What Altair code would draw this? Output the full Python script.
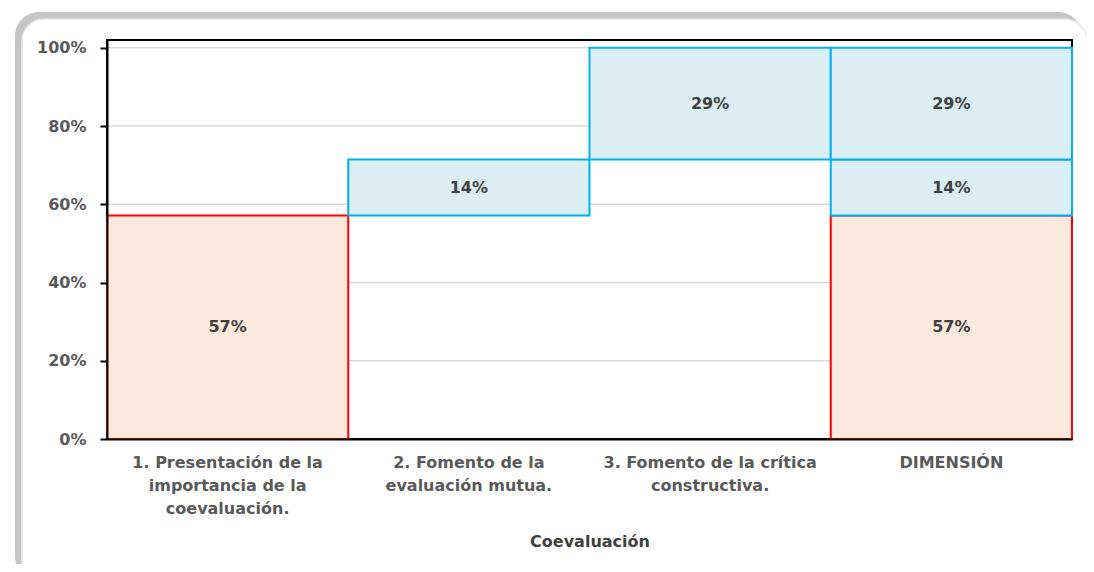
import altair as alt
import pandas as pd

# ---- data ----
categories = [
    "1. Presentación de la|importancia de la|coevaluación.",
    "2. Fomento de la|evaluación mutua.",
    "3. Fomento de la crítica|constructiva.",
    "DIMENSIÓN",
]
seg_category = [categories[0], categories[1], categories[2], categories[3], categories[3], categories[3]]
seg_value = [0.5714, 0.1429, 0.2857, 0.5714, 0.1429, 0.2857]
seg_kind = ["base", "step", "step", "base", "step", "step"]
seg_label = ["57%", "14%", "29%", "57%", "14%", "29%"]
seg_start = [0.0, 0.5714, 0.7143, 0.0, 0.5714, 0.7143]
y_ticks = [0, 0.2, 0.4, 0.6, 0.8, 1.0]

df = pd.DataFrame({
    "cat": seg_category,
    "start": seg_start,
    "value": seg_value,
    "kind": seg_kind,
    "label": seg_label,
})
df["end"] = df["start"] + df["value"]
df["mid"] = (df["start"] + df["end"]) / 2
grid_df = pd.DataFrame({"t": y_ticks})

FONT = "DejaVu Sans"
W, H = 965, 399
y_scale = alt.Scale(domain=[0, 1.02], nice=False)

x_enc = alt.X(
    "cat:N",
    sort=categories,
    title="Coevaluación",
    scale=alt.Scale(paddingInner=0, paddingOuter=0),
    axis=alt.Axis(
        labelAngle=0,
        labelExpr="split(datum.label, '|')",
        labelFont=FONT, labelFontSize=16, labelFontWeight="bold", labelColor="#595959",
        labelLineHeight=23, labelPadding=15, labelLimit=400,
        ticks=False, domainColor="black", domainWidth=2, zindex=2,
        titleFont=FONT, titleFontSize=16, titleFontWeight="bold", titleColor="#404040",
        titlePadding=17,
    ),
)

one = pd.DataFrame({"a": [0]})
shadow = alt.Chart(one).mark_rect(
    fill="#9e9e9e", opacity=0.6, cornerRadius=24
).encode(
    x=alt.value(-92), x2=alt.value(975), y=alt.value(-28), y2=alt.value(540)
)
frame = alt.Chart(one).mark_rect(
    fill="white", stroke="#e6e6e6", strokeWidth=1.5, cornerRadius=22
).encode(
    x=alt.value(-85), x2=alt.value(980), y=alt.value(-21), y2=alt.value(545)
)

grid = alt.Chart(grid_df).mark_rule(color="#d9d9d9", strokeWidth=1.5).encode(
    y=alt.Y("t:Q", scale=y_scale, title=None,
            axis=alt.Axis(
                values=y_ticks, format=".0%", grid=False,
                labelFont=FONT, labelFontSize=16, labelFontWeight="bold", labelColor="#595959",
                labelPadding=14, tickSize=7, tickColor="black", tickWidth=2,
                domainColor="black", domainWidth=2, zindex=2,
            )),
)

view_box = alt.Chart(one).mark_rect(fill=None, stroke="black", strokeWidth=2).encode(
    x=alt.value(0), x2=alt.value(W), y=alt.value(0), y2=alt.value(H)
)

bars = alt.Chart(df).mark_rect(strokeWidth=2).encode(
    x=x_enc,
    y=alt.Y("start:Q", scale=y_scale, title=None),
    y2="end:Q",
    fill=alt.Fill("kind:N", scale=alt.Scale(domain=["base", "step"], range=["#FCE9DB", "#DAEEF3"]), legend=None),
    stroke=alt.Stroke("kind:N", scale=alt.Scale(domain=["base", "step"], range=["#FF0000", "#00B0F0"]), legend=None),
)

texts = alt.Chart(df).mark_text(
    font=FONT, fontSize=16, fontWeight="bold", color="#404040"
).encode(
    x=alt.X("cat:N", sort=categories),
    y=alt.Y("mid:Q", scale=y_scale),
    text="label:N",
)

chart = alt.layer(shadow, frame, grid, view_box, bars, texts).properties(
    width=W, height=H,
    autosize=alt.AutoSizeParams(type="none"),
    padding={"left": 99, "top": 32, "right": 14, "bottom": 125},
).configure_view(stroke=None).configure(background="white")

chart.save("out.html", embed_options={"renderer": "svg", "actions": False})
